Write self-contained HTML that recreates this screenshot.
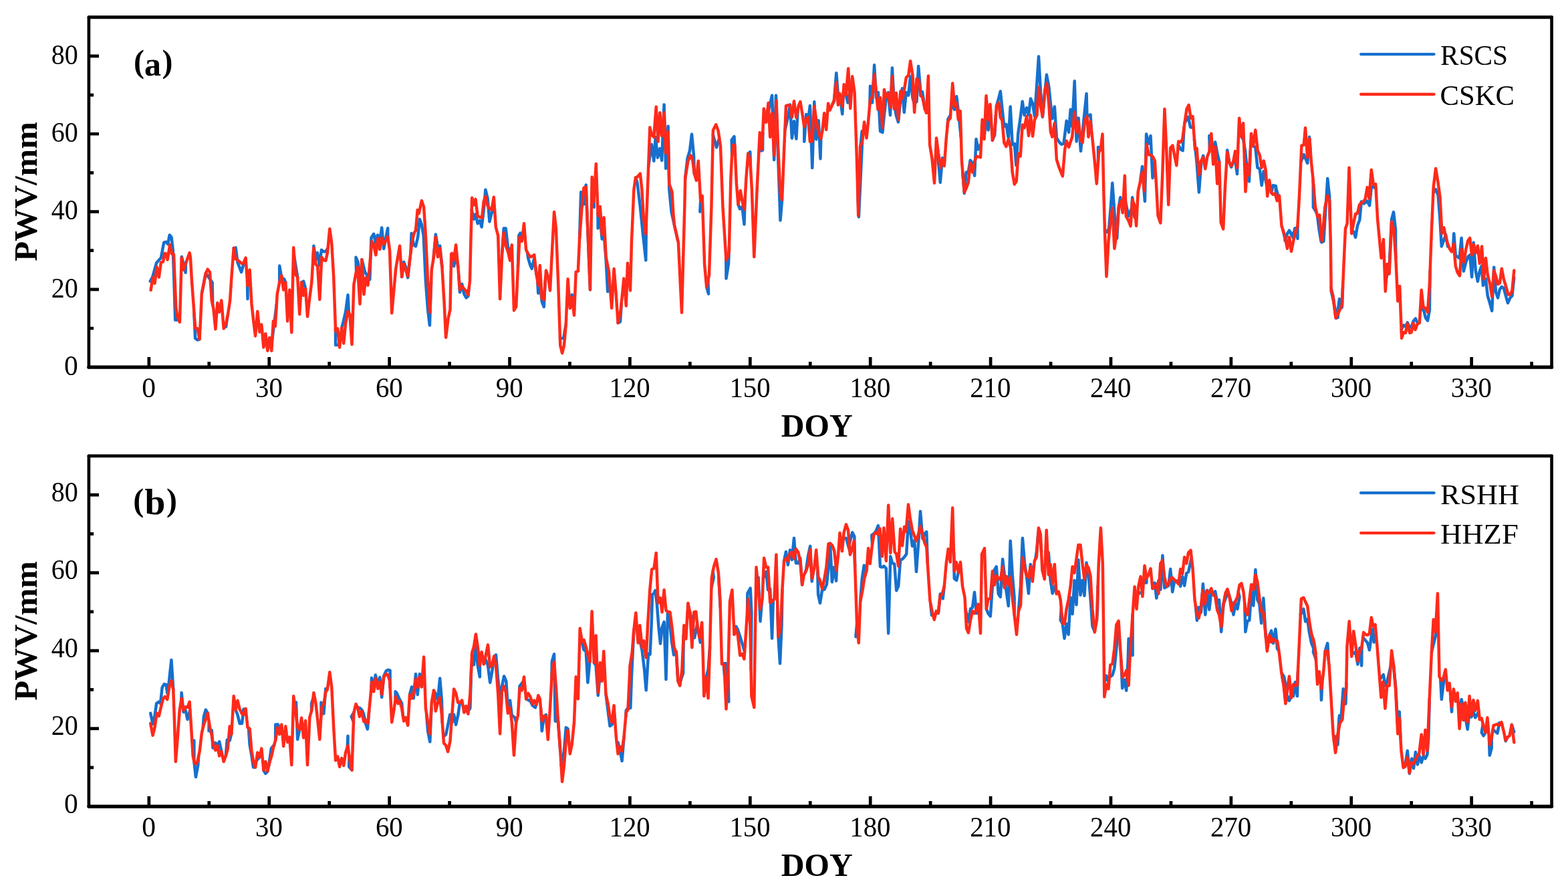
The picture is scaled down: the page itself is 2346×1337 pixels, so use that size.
<!DOCTYPE html>
<html lang="en">
<head>
<meta charset="utf-8">
<title>PWV time series comparison</title>
<style>
html,body{margin:0;padding:0;background:#fff;}
body{width:2346px;height:1337px;overflow:hidden;}
svg{display:block;}
text{font-family:"Liberation Serif",serif;fill:#000;}
</style>
</head>
<body>
<svg width="2346" height="1337" viewBox="0 0 2346 1337">
<rect width="2346" height="1337" fill="#fff"/>
<g class="panel">
<path d="M224.7,420.6 L228.1,414.6 L234.1,393.3 L238.4,388.2 L240.9,385.6 L245.2,362.6 L248.6,361.8 L251.2,365.2 L253.7,351.5 L256.6,354.9 L258.8,374.6 L260.5,422.3 L262.2,478.6 L267.5,478.6 M271.6,385.6 L271.9,383.9 L277.6,407.8 L277.9,394.0 M290.4,468.1 L292.1,505.9 L295.5,508.4 L298.6,507.2 M302.6,435.5 L307.8,408.7 L310.8,412.9 L317.6,422.3 L318.3,456.6 M337.8,484.3 L338.1,488.8 L340.3,473.4 M349.7,371.1 L352.6,370.3 L355.5,392.5 L361.1,407.0 L365.7,390.4 M370.0,420.4 L370.5,447.0 L370.5,427.4 M407.3,507.5 L413.9,454.9 M418.1,423.0 L418.2,397.6 L421.3,415.5 L425.1,417.2 L427.3,422.3 M440.1,383.2 L445.2,414.6 M451.1,422.3 L454.1,420.6 L457.1,431.7 M468.4,388.3 L469.4,367.7 L472.3,388.2 L474.9,378.0 L477.9,396.7 L481.0,373.7 L484.4,376.3 L487.3,376.3 L490.5,371.2 M502.0,490.4 L502.1,516.1 L507.7,515.8 M511.2,490.5 L513.7,481.1 L517.1,466.6 L520.5,441.1 L521.9,467.7 M533.1,406.3 L532.5,384.8 L535.5,391.6 L539.9,422.4 M541.4,388.2 L546.1,407.0 L553.3,418.0 L555.5,355.8 L559.2,349.8 L562.3,364.3 L564.9,351.5 L568.3,360.9 L571.2,340.5 L574.2,372.0 L580.2,341.3 L580.3,354.3 M601.1,414.1 L604.1,391.7 L607.0,399.2 L610.2,415.2 L613.4,386.4 M614.5,378.0 L615.6,349.1 L618.8,366.2 L622.0,368.3 L625.2,354.4 L627.9,327.8 L630.9,336.3 L633.7,352.3 L636.9,420.5 L640.1,463.1 L642.9,486.6 L645.1,420.5 M648.6,386.4 L651.8,350.6 L655.0,369.4 L658.2,367.6 L661.4,399.2 M675.2,380.0 L676.3,388.5 L679.1,398.1 L682.1,377.9 L685.3,399.2 M686.3,411.9 L688.0,437.1 L691.2,424.8 L694.4,439.7 L697.6,445.4 L700.4,442.9 L701.6,431.0 M705.6,313.9 L708.9,327.8 L711.5,320.3 L714.7,334.2 L717.9,329.9 L720.6,339.5 L723.8,313.9 L726.4,283.7 L729.6,296.9 L732.4,331.4 L735.6,318.2 L740.0,313.9 M751.3,377.9 L753.7,341.6 L756.7,341.6 L759.9,369.4 L764.4,378.0 M775.0,399.2 L776.3,352.3 L778.4,348.5 L781.2,356.6 M788.9,377.0 L790.3,386.4 L793.5,397.1 L795.7,401.8 L799.3,386.4 L802.5,409.9 M804.2,420.2 L805.3,438.6 L807.8,420.5 L810.8,451.4 L813.8,458.9 L815.8,420.5 M837.9,505.9 L843.2,505.8 L846.8,484.4 M851.7,446.2 L855.8,440.8 L859.3,463.1 M867.1,356.7 L869.2,287.3 L873.5,305.4 L876.7,276.6 L879.9,356.6 L883.0,433.3 M871.2,303.7 L876.8,276.6 L877.5,300.5 M888.3,300.4 L888.8,309.9 L888.5,300.4 M894.5,317.5 L894.7,341.4 L897.8,326.1 L900.7,357.6 L903.8,351.6 L906.7,389.2 L909.2,436.1 L912.0,419.8 M924.6,482.9 L928.0,481.2 L929.8,453.8 M951.0,265.6 L953.5,273.2 L957.8,309.0 L962.1,351.6 L966.3,389.2 L966.9,334.5 M970.1,249.3 L974.9,216.1 L978.3,240.8 L980.8,205.0 L983.9,235.7 L987.3,222.1 L990.2,240.0 L993.6,156.4 L996.2,251.9 L999.6,188.8 L1001.3,283.4 L1004.7,317.6 L1014.0,359.0 M1025.2,266.4 L1028.6,236.6 L1032.0,225.5 L1035.0,200.8 L1038.0,232.3 L1038.9,260.1 M1048.2,300.3 L1047.3,316.7 L1048.3,300.2 M1057.2,429.4 L1060.1,439.5 L1059.3,419.2 M1066.8,201.6 L1072.0,220.4 L1076.2,206.5 M1086.3,385.6 L1086.5,416.4 L1090.0,394.3 L1091.0,368.7 M1095.1,232.4 L1094.7,209.3 L1098.5,204.2 L1100.0,232.3 M1104.4,305.6 L1107.0,312.4 L1110.4,309.0 L1113.5,335.5 L1114.5,300.4 M1119.3,229.7 L1122.3,227.2 L1122.9,249.5 M1136.0,215.2 L1138.5,225.5 L1141.1,224.6 L1141.3,198.2 M1150.1,164.2 L1155.1,142.8 L1158.2,239.1 L1161.0,142.8 L1164.1,232.3 L1167.5,329.5 L1170.1,298.8 M1174.4,194.7 L1179.5,172.6 L1182.0,156.4 L1184.9,206.7 L1188.0,181.2 L1191.4,207.6 L1193.7,163.9 M1203.3,189.3 L1203.3,211.8 L1206.2,170.9 L1209.0,181.2 L1211.9,158.1 L1215.3,251.1 L1218.3,152.2 L1221.2,208.4 L1224.7,180.3 L1227.5,237.4 L1228.3,206.3 M1245.7,155.5 L1247.9,151.8 L1251.3,109.2 L1253.9,141.6 L1257.3,148.4 L1260.3,170.6 L1261.9,138.1 M1265.8,141.6 L1268.4,153.6 L1271.1,138.2 M1287.0,223.4 L1289.7,196.2 L1290.7,206.3 M1290.0,213.2 L1284.9,324.4 L1283.4,291.7 M1301.4,155.5 L1302.0,128.8 L1305.0,153.6 L1308.1,97.3 L1311.0,146.7 L1313.9,138.2 L1317.0,196.2 L1320.4,197.9 L1322.9,172.3 L1325.8,146.7 L1328.9,138.2 L1332.0,172.3 L1334.9,101.5 L1337.8,155.2 L1340.8,172.3 L1343.9,182.5 L1347.3,150.1 L1349.9,132.2 L1352.8,168.0 L1355.8,138.2 L1359.2,142.5 L1362.1,114.3 L1365.5,146.7 L1368.1,155.2 L1371.5,151.8 L1374.1,99.0 L1377.5,138.2 L1380.0,137.3 L1384.0,163.6 M1400.2,223.4 L1403.9,240.5 L1406.8,272.9 L1409.9,236.2 L1413.3,240.5 M1417.5,189.5 L1418.4,178.3 L1422.1,172.3 M1423.2,155.1 L1428.1,163.8 L1431.2,144.2 L1433.8,165.5 L1437.9,206.4 M1440.3,257.5 L1442.8,289.1 L1445.7,257.6 L1448.8,257.6 L1451.7,239.7 L1455.1,243.9 L1458.1,262.7 L1460.5,208.1 L1463.6,223.4 L1467.9,215.0 M1469.1,189.3 L1472.5,206.4 L1475.5,175.7 L1478.6,194.5 L1482.5,172.2 M1484.9,209.8 L1488.3,201.3 L1489.9,172.2 M1490.9,158.7 L1494.3,146.7 L1496.8,136.5 L1499.4,162.1 L1502.3,189.3 L1505.4,185.9 L1508.8,206.4 L1511.7,159.5 L1514.7,216.6 L1517.8,214.9 L1520.4,247.3 L1523.3,199.6 L1526.7,175.7 L1529.7,151.8 L1532.6,172.3 L1536.0,161.2 L1539.0,172.3 L1542.0,147.6 L1545.1,155.2 L1548.0,174.0 L1550.5,138.2 L1554.0,84.5 L1557.0,138.2 L1559.9,174.9 L1563.3,138.2 L1565.9,111.8 L1569.3,129.7 L1571.9,155.2 L1574.4,177.4 L1577.8,159.5 L1580.9,206.4 L1584.7,212.4 L1588.1,215.8 L1591.5,214.9 L1595.7,180.8 L1599.1,197.9 L1601.7,163.8 L1604.2,189.3 L1607.7,121.2 L1610.6,211.5 L1613.6,176.6 L1617.0,226.0 L1620.5,189.3 L1625.6,139.9 L1626.4,174.0 M1626.4,174.2 L1631.6,171.5 L1632.6,191.3 M1643.0,242.4 L1643.0,220.1 L1645.4,225.2 M1653.0,344.6 L1656.7,347.2 L1659.2,341.2 L1661.8,310.5 L1664.3,273.8 L1666.9,310.5 L1669.5,353.1 L1671.2,356.5 L1673.7,310.5 M1673.7,310.5 L1676.3,295.2 L1677.5,303.9 M1684.1,302.1 L1688.5,323.3 L1693.4,310.7 M1693.4,310.6 L1694.2,295.2 L1697.6,325.0 L1697.8,310.6 M1706.1,271.3 L1709.0,249.1 L1712.9,301.1 L1715.1,200.5 L1718.0,215.0 L1721.5,203.1 L1724.5,266.2 L1727.9,242.2 M1762.8,216.7 L1766.6,223.6 L1769.7,225.2 L1771.5,191.0 M1772.4,183.9 L1777.7,174.9 L1781.1,190.3 L1785.7,191.0 M1786.9,208.3 L1790.5,242.3 L1793.9,287.5 L1797.3,242.3 L1800.2,232.9 L1803.8,249.2 M1809.8,222.2 L1809.3,203.1 L1813.7,221.8 M1813.9,225.3 L1818.1,212.5 L1821.2,228.7 L1824.3,242.3 M1835.3,242.4 L1836.2,224.4 L1839.1,242.3 L1842.2,250.0 L1845.1,242.3 L1848.5,242.3 L1851.0,260.2 L1852.1,225.2 M1857.0,203.9 L1860.1,208.2 L1863.0,225.2 L1866.4,259.4 L1868.9,271.3 L1870.8,225.2 M1874.9,218.4 L1878.3,220.1 L1881.4,250.8 L1884.8,252.5 L1887.7,277.2 L1890.8,255.9 L1895.1,276.3 M1902.2,288.3 L1904.7,277.2 L1909.0,278.1 L1908.7,292.4 M1922.2,352.4 L1922.6,359.9 L1926.0,349.7 L1929.0,344.6 L1932.0,350.6 L1935.4,356.5 L1937.1,342.1 L1941.4,356.5 L1940.7,340.2 M1946.3,242.2 L1950.8,231.2 L1953.3,237.2 L1956.2,244.0 L1959.0,204.8 L1960.6,225.3 M1965.2,276.1 L1965.3,310.5 L1970.0,318.7 M1971.2,324.1 L1973.8,344.6 L1976.7,361.6 L1979.8,360.8 L1980.2,336.0 M1985.9,294.1 L1986.2,267.0 L1986.9,294.3 M1991.6,429.9 L1995.1,446.9 L1998.5,474.2 L2001.6,475.0 L2004.0,446.9 L2007.9,458.8 L2009.0,429.8 M1900.8,279.6 L1905.2,277.8 L1908.5,278.8 L1912.9,295.4 M1919.3,343.3 L1923.1,358.9 L1926.0,349.2 L1928.9,345.3 L1932.4,349.2 L1935.1,351.1 L1937.6,341.4 L1941.5,356.9 L1941.4,338.6 M1964.7,269.2 L1964.9,310.3 L1969.0,313.9 M1974.7,327.6 L1974.6,347.2 L1977.5,362.4 L1980.4,360.8 L1982.4,327.8 L1986.3,267.5 L1989.2,294.7 L1989.9,327.8 M1991.7,434.9 L1996.0,454.2 L1999.9,475.6 L2001.8,463.9 L2003.8,448.4 L2007.7,460.0 L2008.4,444.4 M2022.2,347.2 L2025.2,346.3 L2028.1,355.0 L2031.0,337.5 L2034.3,328.8 L2036.8,301.5 L2040.7,304.4 L2045.6,300.6 L2049.1,307.4 L2051.8,279.2 L2058.5,280.9 M2074.3,415.2 L2078.6,399.7 L2082.1,327.8 L2085.0,317.1 L2088.0,343.3 L2088.3,386.2 M2096.6,493.1 L2100.0,486.3 L2102.9,488.2 L2105.8,482.4 L2108.8,489.2 L2111.7,489.2 L2114.6,480.4 L2117.9,476.5 L2120.4,482.4 L2123.6,482.7 M2125.0,463.8 L2129.6,462.0 L2133.1,475.6 L2136.0,479.5 L2138.9,463.9 L2139.6,405.5 M2144.4,288.9 L2148.1,283.1 L2151.6,291.8 L2154.5,327.8 L2156.8,368.6 L2160.3,358.9 L2163.2,351.1 L2166.1,368.6 L2167.1,367.4 M2174.2,367.2 L2175.3,349.2 L2177.8,382.2 L2180.7,384.2 L2183.6,386.1 L2186.6,356.0 L2189.8,405.6 L2193.3,391.9 L2196.3,384.2 L2199.2,381.3 L2202.1,414.3 L2204.6,362.8 L2207.9,405.6 L2210.9,420.7 L2213.8,405.6 L2216.7,397.8 L2219.0,427.0 L2222.9,417.2 L2225.8,442.5 L2229.3,454.2 L2232.2,464.9 L2235.2,399.7 L2238.1,436.7 L2241.0,445.4 L2243.9,432.8 L2246.8,428.9 L2249.8,430.9 L2252.7,441.5 L2256.0,453.2 L2259.5,445.4 L2262.4,442.5 L2265.3,415.3" fill="none" stroke="#1670cd" stroke-width="4.5" stroke-linejoin="round" stroke-linecap="round"/>
<path d="M225.6,433.9 L228.6,415.5 L231.5,423.7 L234.6,399.3 L237.8,414.6 L240.9,392.5 L244.0,391.6 L246.4,378.8 L248.6,379.7 L250.6,388.5 L254.2,366.0 L257.1,379.7 L260.0,380.5 L261.7,422.3 L263.4,461.5 L265.6,474.3 L268.9,481.6 L270.2,439.4 L271.6,385.6 L274.5,403.6 L277.6,395.0 L283.6,378.0 L284.9,384.8 L287.0,420.6 L292.1,490.5 L295.5,491.4 L298.6,507.2 L300.3,473.4 L301.8,439.4 L304.9,424.0 L307.8,408.7 L310.8,402.7 L313.9,407.0 L316.8,449.6 L319.4,461.5 L322.4,492.2 L325.3,453.0 L328.2,466.6 L331.3,449.2 L334.7,491.4 L338.1,483.7 L340.7,471.8 L344.1,449.6 L346.6,412.1 L349.7,371.1 L352.6,387.4 L355.5,389.1 L358.6,391.6 L362.0,394.2 L364.5,393.3 L367.6,385.6 L370.5,427.4 L373.6,403.6 L376.5,454.7 L379.5,482.0 L382.1,502.4 L385.3,465.8 L388.4,496.5 L391.3,485.4 L394.4,519.5 L397.3,499.0 L400.3,524.6 L403.2,505.0 L406.3,524.6 L408.9,480.3 L411.8,487.9 L414.8,439.4 L418.2,422.3 L421.3,412.1 L424.2,433.4 L427.3,422.3 L430.2,480.3 L433.2,433.4 L436.3,497.3 L439.2,370.3 L442.1,410.4 L445.2,414.6 L448.2,470.0 L451.1,422.3 L454.1,441.9 L457.1,431.7 L460.0,473.4 L463.4,444.5 L466.3,422.3 L469.4,371.1 L472.3,395.0 L475.2,398.4 L478.3,447.9 L481.3,384.8 L484.4,389.1 L487.3,389.9 L489.9,378.0 L493.3,342.2 L496.3,364.3 L499.2,413.8 L502.1,494.8 L505.2,491.4 L508.1,519.5 L511.2,490.5 L514.2,513.5 L517.1,483.7 L520.5,465.8 L523.4,470.0 L526.5,515.2 L529.4,425.7 L532.5,408.7 L535.0,399.3 L538.5,454.7 L541.4,388.2 L544.4,440.2 L547.3,415.5 L550.4,426.6 L553.3,395.0 L556.4,360.9 L559.2,366.0 L562.3,381.4 L565.4,356.7 L568.3,372.9 L571.2,355.8 L574.2,365.2 L580.2,354.1 L583.1,374.6 L586.2,468.3 L592.2,401.8 L598.1,367.7 L601.1,414.1 L604.1,394.9 L607.0,403.4 L610.2,413.0 L613.4,386.4 L616.6,360.8 L619.8,348.0 L622.0,344.8 L624.7,313.9 L626.7,319.3 L627.9,313.9 L630.9,300.1 L634.1,309.7 L636.9,352.3 L640.1,420.5 L643.3,467.0 L645.8,403.4 L648.6,386.4 L651.8,354.4 L655.0,384.3 L658.2,371.5 L661.4,399.2 L664.6,452.5 L667.1,504.7 L670.6,475.9 L673.5,463.1 L675.2,380.0 L676.3,378.9 L679.1,388.5 L682.1,366.2 L685.3,399.2 L688.0,433.3 L691.2,428.0 L694.4,432.2 L697.6,435.4 L700.4,440.8 L703.0,420.5 L704.5,356.6 L706.2,295.8 L708.9,306.5 L711.5,297.9 L714.7,323.5 L717.9,324.6 L721.1,325.7 L723.8,301.1 L726.4,293.7 L729.6,307.5 L732.4,311.8 L735.6,313.9 L738.8,294.8 L741.8,339.5 L745.2,352.3 L748.1,447.1 L751.3,377.9 L753.7,348.0 L756.7,367.2 L759.9,375.8 L763.1,389.6 L765.8,366.2 L769.0,464.2 L772.2,458.9 L775.0,399.2 L777.5,354.4 L780.8,360.8 L784.0,334.2 L787.1,373.6 L790.3,380.0 L793.5,384.3 L796.7,383.2 L799.3,381.1 L802.5,409.9 L805.3,426.9 L807.8,397.1 L810.8,446.1 L813.8,448.2 L817.0,404.5 L820.2,414.1 L823.0,434.4 L825.9,377.9 L829.1,317.1 L831.9,341.6 L835.1,420.5 L838.3,516.4 L841.1,528.1 L844.0,516.4 L846.8,484.4 L849.6,417.3 L852.8,461.0 L855.8,445.0 L859.0,471.6 L861.7,406.6 L864.9,405.6 L867.1,356.6 L870.3,313.9 L873.5,280.9 L876.7,279.8 L879.9,356.6 L883.0,433.3 L885.7,264.7 L888.4,301.4 L891.8,245.1 L894.7,322.7 L897.8,309.0 L900.7,350.8 L903.6,325.2 L906.7,384.9 L910.9,405.4 L915.2,460.8 L918.6,401.9 L921.7,439.5 L924.6,482.9 L928.8,463.3 L933.4,416.4 L936.8,457.4 L939.0,393.4 L943.0,434.4 L945.0,361.0 L948.4,283.4 L951.0,265.6 L953.5,264.7 L957.8,259.6 L960.4,283.4 L962.9,326.1 L966.3,349.9 L968.9,283.4 L972.3,190.5 L974.9,201.6 L978.3,205.0 L981.7,159.8 L984.6,211.8 L987.3,168.4 L990.2,203.3 L993.6,168.4 L996.2,228.9 L999.6,197.3 L1001.3,274.9 L1005.5,286.9 L1007.2,317.6 L1009.0,337.2 L1014.9,362.7 L1020.0,467.6 L1024.3,309.9 L1025.2,266.4 L1029.4,240.8 L1033.3,232.3 L1036.2,239.1 L1038.8,259.6 L1041.9,269.8 L1044.8,240.8 L1048.2,300.5 L1050.7,292.8 L1054.1,395.1 L1057.2,429.4 L1061.0,411.3 L1064.4,309.9 L1066.9,194.8 L1071.2,186.3 L1074.6,195.6 L1078.0,218.7 L1081.4,309.0 L1086.5,389.2 L1090.8,377.2 L1093.4,266.4 L1095.1,232.3 L1096.8,217.0 L1099.3,217.0 L1101.9,274.9 L1104.4,305.6 L1107.8,285.2 L1110.4,300.5 L1113.8,313.3 L1116.4,266.4 L1119.3,229.7 L1122.3,239.1 L1124.9,283.4 L1128.3,384.1 L1132.6,283.4 L1136.8,198.2 L1140.2,222.9 L1142.8,162.4 L1146.2,182.9 L1149.6,153.9 L1152.2,205.0 L1155.1,170.1 L1158.2,232.3 L1161.6,150.5 L1164.1,220.4 L1167.5,288.6 L1170.1,298.8 L1173.5,215.2 L1176.0,158.1 L1179.5,157.3 L1182.0,158.1 L1184.9,175.2 L1188.0,151.3 L1191.4,176.0 L1194.8,158.1 L1197.4,152.2 L1200.8,172.6 L1203.3,189.7 L1206.2,179.4 L1209.0,175.2 L1211.9,211.8 L1215.3,211.0 L1218.3,159.0 L1221.2,179.4 L1224.7,198.2 L1228.1,207.6 L1230.6,194.8 L1233.2,169.2 L1236.2,193.9 L1239.1,154.7 L1241.7,164.9 L1247.9,150.1 L1251.3,122.9 L1253.9,157.0 L1256.4,139.9 L1260.3,159.5 L1262.7,126.3 L1265.8,141.6 L1269.2,102.4 L1272.3,162.1 L1275.2,114.3 L1278.6,138.2 L1280.3,189.3 L1282.0,240.5 L1284.2,322.5 L1287.1,218.3 L1290.0,213.2 L1293.1,182.5 L1296.5,206.4 L1299.0,182.5 L1302.0,149.3 L1305.0,145.0 L1308.1,110.9 L1311.0,138.2 L1313.5,163.8 L1317.0,145.9 L1320.4,191.1 L1322.9,133.9 L1325.8,145.0 L1328.9,139.9 L1332.3,160.4 L1334.9,114.3 L1337.8,162.9 L1340.8,139.1 L1344.2,179.1 L1347.3,136.5 L1350.2,147.6 L1352.8,134.8 L1355.8,116.0 L1359.2,112.6 L1362.1,91.3 L1365.5,112.6 L1368.1,168.0 L1371.5,117.7 L1374.6,120.3 L1377.5,143.3 L1380.0,145.0 L1383.5,162.1 L1386.0,168.9 L1388.9,113.5 L1391.1,216.6 L1394.5,237.1 L1398.0,273.8 L1401.0,206.4 L1403.9,228.6 L1407.3,250.7 L1409.9,238.8 L1412.8,248.2 L1415.8,206.4 L1418.4,180.8 L1421.8,176.6 L1425.2,124.6 L1428.1,158.7 L1431.2,153.6 L1433.8,179.1 L1436.8,166.3 L1438.9,240.5 L1442.8,287.4 L1445.7,281.4 L1448.8,272.9 L1451.7,243.9 L1455.1,257.6 L1458.5,240.5 L1461.0,233.7 L1467.0,235.4 L1469.6,179.1 L1472.5,208.1 L1475.5,143.3 L1478.6,179.1 L1481.5,156.1 L1484.9,209.8 L1488.3,196.2 L1490.9,158.7 L1494.3,153.6 L1496.8,175.7 L1499.4,180.0 L1502.3,213.2 L1505.4,219.2 L1508.8,208.1 L1512.2,221.8 L1514.7,257.6 L1517.8,275.5 L1520.7,271.2 L1523.6,229.4 L1526.7,233.7 L1529.7,186.8 L1532.6,191.1 L1536.0,174.0 L1539.0,203.0 L1542.0,172.3 L1545.1,203.8 L1548.0,179.1 L1551.4,172.3 L1554.0,130.5 L1557.0,158.7 L1559.9,174.0 L1563.3,134.8 L1566.2,124.6 L1569.3,155.2 L1571.9,197.0 L1574.4,204.7 L1577.8,184.2 L1580.9,238.8 L1584.7,250.7 L1589.8,263.5 L1593.2,223.4 L1595.7,210.7 L1599.1,220.0 L1604.2,204.7 L1607.7,168.0 L1610.6,197.9 L1613.6,182.5 L1617.0,209.8 L1619.6,213.2 L1623.0,180.8 L1626.4,174.0 L1628.5,204.8 L1631.6,181.8 L1634.5,208.2 L1637.9,242.3 L1640.8,274.7 L1643.9,228.7 L1646.9,221.8 L1649.5,200.5 L1651.5,293.4 L1653.2,353.1 L1655.5,413.5 L1658.4,361.6 L1661.8,327.6 L1664.3,311.4 L1667.4,371.7 L1671.2,344.6 L1673.7,310.5 L1677.1,301.1 L1679.7,318.2 L1682.8,262.8 L1684.8,323.3 L1688.2,329.3 L1691.6,338.1 L1694.2,298.6 L1697.6,307.9 L1700.1,337.8 L1702.7,286.6 L1706.1,271.3 L1709.0,257.6 L1712.1,285.8 L1715.5,215.9 L1718.5,231.2 L1722.3,232.1 L1724.9,234.6 L1727.8,240.6 L1730.0,276.4 L1732.5,322.4 L1736.3,333.5 L1739.3,259.4 L1742.4,163.0 L1745.3,225.2 L1748.2,306.2 L1751.3,221.0 L1754.4,217.6 L1757.2,232.1 L1760.3,247.4 L1763.2,211.6 L1766.6,212.5 L1769.2,208.2 L1772.6,182.6 L1775.5,163.0 L1778.6,157.1 L1781.6,176.7 L1784.5,174.1 L1788.0,223.6 L1790.5,221.8 L1793.9,261.9 L1797.0,240.6 L1800.2,235.5 L1803.3,252.5 L1806.4,233.8 L1809.3,227.0 L1812.3,199.7 L1815.2,245.7 L1818.1,219.3 L1821.2,274.7 L1824.3,242.3 L1826.7,332.7 L1830.2,342.4 L1833.1,276.4 L1836.2,227.8 L1839.1,242.3 L1842.2,248.3 L1845.1,242.3 L1848.1,226.1 L1851.0,250.8 L1854.1,176.7 L1857.0,203.9 L1860.1,184.3 L1863.5,286.6 L1866.4,245.7 L1868.9,261.9 L1872.0,199.7 L1874.9,218.4 L1878.3,194.6 L1881.7,225.2 L1884.8,232.1 L1887.7,250.8 L1890.8,240.6 L1893.7,254.2 L1896.2,293.4 L1899.1,269.6 L1902.2,288.3 L1904.7,290.9 L1907.8,289.2 L1910.7,300.3 L1914.1,292.6 L1917.5,337.8 L1922.6,353.8 L1926.0,371.7 L1929.0,354.7 L1932.0,376.0 L1935.4,358.9 L1938.8,344.6 L1941.4,338.6 L1944.0,293.4 L1947.4,217.6 L1950.8,216.7 L1953.0,191.2 L1956.2,235.5 L1959.3,207.3 L1961.9,242.3 L1964.4,266.2 L1967.8,308.8 L1971.2,324.1 L1974.3,321.6 L1976.3,353.1 L1978.1,360.6 L1982.3,310.5 L1986.2,292.6 L1989.1,300.3 L1990.8,361.6 L1991.7,434.8 L1994.2,441.6 L1998.5,475.7 L2002.8,467.4 L2007.9,456.1 L2010.5,395.8 L2013.0,341.9 L2015.6,334.4 L2018.5,250.8 L2020.3,298.6 L2022.2,349.2 L2025.2,333.6 L2028.1,320.0 L2031.0,319.0 L2033.9,306.4 L2036.8,303.5 L2039.7,301.5 L2042.7,297.6 L2045.6,280.1 L2048.5,296.7 L2051.8,253.9 L2054.9,276.2 L2058.2,275.3 L2061.1,327.8 L2064.0,358.9 L2066.6,386.1 L2069.9,357.9 L2072.8,435.7 L2075.7,394.9 L2078.6,409.5 L2082.1,331.7 L2085.4,343.3 L2088.3,386.1 L2091.3,450.3 L2094.2,427.9 L2097.1,505.7 L2100.0,497.0 L2102.9,497.9 L2105.8,484.3 L2109.3,497.9 L2111.7,497.0 L2114.6,483.4 L2117.5,493.1 L2120.4,485.3 L2123.9,482.4 L2126.7,433.8 L2129.6,460.0 L2133.1,461.0 L2136.0,466.8 L2138.9,425.0 L2141.8,347.2 L2144.7,280.1 L2148.1,251.9 L2151.6,273.3 L2154.5,294.7 L2157.4,349.2 L2160.3,340.4 L2163.2,355.0 L2166.1,364.7 L2169.1,372.5 L2172.0,376.4 L2174.9,364.7 L2177.8,397.8 L2180.7,407.5 L2184.0,412.4 L2186.9,372.5 L2190.4,391.9 L2193.3,372.5 L2196.3,359.9 L2199.2,356.0 L2202.1,381.3 L2205.0,365.7 L2207.9,378.3 L2210.9,367.6 L2213.8,393.9 L2217.1,368.6 L2220.0,417.2 L2222.9,386.1 L2225.8,411.4 L2229.3,425.0 L2232.2,443.5 L2235.2,404.6 L2238.1,413.3 L2241.0,425.0 L2243.9,423.1 L2246.8,401.7 L2249.8,417.2 L2252.7,427.0 L2256.6,440.6 L2259.5,440.6 L2262.4,434.7 L2265.3,404.6" fill="none" stroke="#ff2a1a" stroke-width="4.5" stroke-linejoin="round" stroke-linecap="round"/>
<path d="M222.85,549.15v-15.20 M312.79,549.15v-8.10 M402.74,549.15v-15.20 M492.69,549.15v-8.10 M582.63,549.15v-15.20 M672.58,549.15v-8.10 M762.53,549.15v-15.20 M852.47,549.15v-8.10 M942.42,549.15v-15.20 M1032.37,549.15v-8.10 M1122.31,549.15v-15.20 M1212.26,549.15v-8.10 M1302.21,549.15v-15.20 M1392.15,549.15v-8.10 M1482.10,549.15v-15.20 M1572.05,549.15v-8.10 M1661.99,549.15v-15.20 M1751.94,549.15v-8.10 M1841.88,549.15v-15.20 M1931.83,549.15v-8.10 M2021.78,549.15v-15.20 M2111.72,549.15v-8.10 M2201.67,549.15v-15.20 M2291.62,549.15v-8.10 M132.90,491.00h7.20 M132.90,432.85h15.10 M132.90,374.70h7.20 M132.90,316.55h15.10 M132.90,258.40h7.20 M132.90,200.25h15.10 M132.90,142.10h7.20 M132.90,83.95h15.10" fill="none" stroke="#000" stroke-width="4.7"/>
<path d="M132.9,25.8V549.15M2321.6,25.8V549.15" fill="none" stroke="#000" stroke-width="4.65" stroke-linecap="round"/>
<path d="M132.9,25.8H2321.6" fill="none" stroke="#000" stroke-width="4.9" stroke-linecap="round"/>
<path d="M132.9,549.15H2321.6" fill="none" stroke="#000" stroke-width="5.3" stroke-linecap="round"/>
<text x="222.5" y="594.1" text-anchor="middle" font-size="41.5">0</text>
<text x="402.4" y="594.1" text-anchor="middle" font-size="41.5" textLength="40.8" lengthAdjust="spacingAndGlyphs">30</text>
<text x="582.3" y="594.1" text-anchor="middle" font-size="41.5" textLength="40.8" lengthAdjust="spacingAndGlyphs">60</text>
<text x="762.2" y="594.1" text-anchor="middle" font-size="41.5" textLength="40.8" lengthAdjust="spacingAndGlyphs">90</text>
<text x="942.1" y="594.1" text-anchor="middle" font-size="41.5" textLength="61.2" lengthAdjust="spacingAndGlyphs">120</text>
<text x="1122.0" y="594.1" text-anchor="middle" font-size="41.5" textLength="61.2" lengthAdjust="spacingAndGlyphs">150</text>
<text x="1301.9" y="594.1" text-anchor="middle" font-size="41.5" textLength="61.2" lengthAdjust="spacingAndGlyphs">180</text>
<text x="1481.8" y="594.1" text-anchor="middle" font-size="41.5" textLength="61.2" lengthAdjust="spacingAndGlyphs">210</text>
<text x="1661.7" y="594.1" text-anchor="middle" font-size="41.5" textLength="61.2" lengthAdjust="spacingAndGlyphs">240</text>
<text x="1841.6" y="594.1" text-anchor="middle" font-size="41.5" textLength="61.2" lengthAdjust="spacingAndGlyphs">270</text>
<text x="2021.5" y="594.1" text-anchor="middle" font-size="41.5" textLength="61.2" lengthAdjust="spacingAndGlyphs">300</text>
<text x="2201.4" y="594.1" text-anchor="middle" font-size="41.5" textLength="61.2" lengthAdjust="spacingAndGlyphs">330</text>
<text x="116.8" y="561.0" text-anchor="end" font-size="41.5">0</text>
<text x="116.8" y="444.7" text-anchor="end" font-size="41.5" textLength="40" lengthAdjust="spacingAndGlyphs">20</text>
<text x="116.8" y="328.4" text-anchor="end" font-size="41.5" textLength="40" lengthAdjust="spacingAndGlyphs">40</text>
<text x="116.8" y="212.2" text-anchor="end" font-size="41.5" textLength="40" lengthAdjust="spacingAndGlyphs">60</text>
<text x="116.8" y="95.8" text-anchor="end" font-size="41.5" textLength="40" lengthAdjust="spacingAndGlyphs">80</text>
<text x="1222.3" y="653.4" text-anchor="middle" font-size="48" font-weight="bold" textLength="107" lengthAdjust="spacingAndGlyphs">DOY</text>
<text transform="translate(55.2,286.5) rotate(-90)" text-anchor="middle" font-size="48" font-weight="bold" textLength="208.5" lengthAdjust="spacingAndGlyphs">PWV/mm</text>
<text font-size="48" font-weight="bold"><tspan x="200.0" y="107.8">(</tspan><tspan x="215.9" y="113.3" font-size="50">a</tspan><tspan x="242.6" y="107.8">)</tspan></text>
<path d="M2036.1,81.1H2145.5" stroke="#1670cd" stroke-width="4.3" stroke-linecap="round"/>
<path d="M2036.1,141.0H2145.5" stroke="#ff2a1a" stroke-width="4.3" stroke-linecap="round"/>
<text x="2155.1" y="97.4" font-size="41.5" textLength="101.0" lengthAdjust="spacingAndGlyphs">RSCS</text>
<text x="2154.6" y="157.3" font-size="41.5" textLength="111.4" lengthAdjust="spacingAndGlyphs">CSKC</text>
</g>
<g class="panel">
<path d="M225.2,1066.6 L228.6,1082.8 L231.5,1070.8 L234.1,1052.1 L237.5,1049.5 L240.1,1052.1 L242.6,1028.2 L245.7,1023.1 L248.6,1023.9 L250.3,1036.7 L252.9,1019.7 L256.4,986.9 L259.3,1031.6 M271.4,1045.7 L271.6,1035.9 L274.5,1064.9 L277.6,1062.3 L280.5,1075.9 L284.4,1062.2 M287.3,1108.3 L290.4,1107.5 L290.4,1139.0 L292.9,1162.0 L296.3,1144.1 L297.2,1130.3 M303.7,1088.3 L304.9,1071.7 L307.8,1061.5 L310.8,1066.6 M312.7,1079.1 L312.5,1093.0 L316.8,1092.1 L318.5,1118.6 L322.4,1110.9 L325.3,1114.3 L328.2,1109.2 L331.3,1123.7 M337.8,1130.5 L339.8,1106.6 L343.7,1107.5 L346.4,1096.4 M352.6,1061.5 L355.5,1069.1 L358.6,1081.9 L362.0,1081.9 L364.5,1060.6 L367.9,1062.3 M371.9,1088.7 L373.6,1113.5 L376.5,1130.5 L379.0,1147.5 L382.1,1147.5 M383.5,1137.9 L388.4,1132.2 M394.4,1151.8 L397.3,1156.9 L400.3,1153.5 M402.1,1145.6 L405.8,1119.4 L410.2,1113.8 M412.1,1107.3 L412.3,1083.6 L416.2,1083.6 L418.6,1096.5 M440.7,1052.0 L443.0,1050.4 L445.2,1105.8 L448.2,1091.3 M466.1,1063.1 L466.0,1052.1 L468.3,1045.2 M480.5,1071.0 L480.5,1050.4 L484.4,1067.4 L487.3,1029.9 L489.5,1031.4 M519.7,1117.7 L520.5,1100.7 L520.5,1115.2 M522.5,1130.2 L522.2,1146.7 L526.5,1151.6 M529.0,1079.5 L525.7,1071.7 L529.4,1065.7 M535.0,1058.0 L538.5,1058.9 L541.9,1062.3 L544.4,1069.1 L547.3,1082.8 L549.9,1090.4 L552.3,1062.3 M555.5,1028.4 L556.0,1013.7 L559.2,1028.2 L561.8,1009.5 L565.4,1024.8 L568.3,1012.9 L571.2,1042.7 L574.2,1011.1 L577.7,1003.5 L580.6,1001.8 L583.6,1002.6 L583.6,1028.3 M591.6,1045.7 L591.6,1034.2 L595.6,1041.8 L598.2,1048.9 M592.2,1041.8 L593.2,1035.8 L598.1,1046.4 L601.1,1051.7 L603.1,1072.1 M613.0,1038.9 L616.0,1027.2 L618.8,1044.3 L622.0,1008.0 L624.7,1038.9 L627.9,1008.0 L630.9,1027.2 M638.1,1067.5 L640.1,1093.3 L643.3,1109.3 L645.4,1059.2 M649.0,1032.5 L651.8,1037.9 L655.0,1046.4 L658.2,1014.4 L661.0,1048.5 L661.8,1080.7 M663.3,1101.9 L667.1,1098.6 L670.1,1084.8 L673.1,1068.8 L676.3,1080.5 L679.1,1068.8 L682.1,1083.7 L685.3,1069.8 L688.0,1050.7 M693.2,1058.8 L694.4,1057.1 L697.2,1063.5 L700.4,1063.5 L703.4,1059.2 L705.3,995.2 M706.0,980.3 L708.9,994.2 L711.9,963.3 L714.7,995.2 L717.9,1012.3 L717.9,994.9 M723.8,993.1 L726.8,986.7 L730.0,995.2 L733.2,1020.8 L736.0,1005.9 L739.2,982.5 L742.0,979.3 L745.2,1016.6 L749.8,1059.3 M749.8,1059.3 L750.9,1027.2 L754.1,1011.2 L757.3,1018.7 L759.9,1059.2 L763.1,1047.5 L765.8,1069.8 L770.1,1073.0 L772.2,1080.5 M777.0,1038.0 L777.5,1026.2 L782.9,1019.0 M787.2,1045.2 L793.5,1048.5 L796.7,1054.9 L801.0,1058.1 L803.6,1048.4 M809.1,1059.1 L810.8,1093.3 L813.8,1072.0 L817.0,1068.8 L817.7,1080.6 M825.3,1016.7 L825.9,988.9 L829.1,978.2 L830.8,1078.4 L835.1,1078.4 L838.3,1123.1 M839.6,1144.5 L844.0,1123.1 L846.8,1088.0 L849.6,1090.1 L850.5,1102.0 M867.2,959.0 L870.9,961.1 L873.5,971.8 L876.7,973.9 L879.4,1020.8 L882.8,984.6 M888.8,991.0 L891.6,995.2 L894.8,1040.0 L898.0,1005.9 L901.8,999.5 M906.5,1037.9 L909.7,1063.5 L912.5,1085.8 L915.5,1083.7 L920.1,1076.1 M922.8,1110.2 L924.6,1110.3 L927.8,1123.1 L930.6,1138.0 L933.6,1101.8 M936.2,1072.2 L936.8,1062.4 L939.5,1059.2 L942.7,1057.1 L942.8,994.9 M939.6,1059.6 L943.3,1058.8 L945.0,1010.2 L948.4,942.1 M955.8,950.4 L960.7,972.7 L964.1,1001.6 L966.7,1032.3 L970.1,977.8 L972.6,978.6 L974.7,933.5 L976.0,889.1 L978.6,887.4 L980.3,883.1 L982.9,902.8 L985.4,936.9 L988.0,962.4 L990.5,938.6 L993.6,930.0 L996.5,1016.1 L999.0,916.4 L1002.5,933.5 L1005.0,959.0 L1008.1,979.5 L1011.8,974.4 L1014.4,1018.7 M1018.2,1018.4 L1022.1,1006.8 L1022.7,950.5 M1028.6,916.4 L1032.3,914.7 L1035.4,930.0 L1039.1,953.9 L1043.2,933.2 M1046.0,950.1 L1047.7,960.7 L1050.8,950.5 M1056.2,1013.6 L1059.6,1001.6 L1062.1,967.6 M1064.4,878.9 L1067.8,863.5 L1066.6,854.5 M1075.4,865.2 L1077.7,907.9 M1084.3,1012.5 L1082.6,992.3 L1086.0,992.3 L1090.3,1049.4 L1089.4,1001.6 M1098.5,948.8 L1101.4,936.9 L1103.9,942.0 L1107.3,952.2 L1114.1,974.6 M1118.0,916.5 L1118.4,887.4 L1122.7,879.7 L1124.4,916.4 L1123.6,1001.7 M1131.2,865.2 L1134.6,863.5 L1137.5,929.2 L1139.9,899.2 M1141.8,865.2 L1146.2,855.0 L1149.1,882.3 L1152.2,880.6 L1155.1,954.8 L1156.8,897.6 M1163.5,916.4 L1164.4,950.5 L1167.0,992.3 L1169.6,933.5 L1170.4,882.2 M1173.0,839.7 L1175.9,825.2 L1178.9,844.8 L1182.0,822.6 L1184.9,837.1 L1188.0,804.7 L1190.9,842.2 L1194.3,842.2 L1197.3,834.6 L1200.2,874.6 M1204.8,856.0 L1206.2,851.6 L1209.1,831.1 L1212.2,816.7 L1214.7,869.5 L1216.7,856.4 M1223.1,848.1 L1224.1,889.1 L1227.0,901.9 L1230.1,882.3 L1233.5,881.5 L1236.9,873.8 L1239.5,848.2 L1242.0,812.4 L1244.9,870.4 L1248.0,848.2 L1251.1,868.7 L1252.0,848.0 M1261.7,805.5 L1265.9,804.7 L1271.4,824.1 M1270.7,814.2 L1275.3,796.2 L1278.3,802.2 L1279.2,848.2 M1282.1,933.3 L1280.4,952.2 L1283.6,950.4 M1287.2,899.4 L1289.8,865.2 L1292.8,845.6 L1297.0,848.2 M1305.1,814.5 L1304.2,800.5 L1308.5,798.0 M1294.5,860.6 L1293.1,845.7 L1296.8,850.9 M1306.0,808.9 L1305.0,799.7 L1307.9,798.0 L1310.8,793.7 L1313.9,786.0 L1316.9,847.4 L1319.8,848.3 L1322.4,846.6 L1325.8,850.0 L1329.2,947.2 L1332.3,832.1 L1335.2,842.3 L1338.2,843.1 L1341.2,883.2 L1344.2,876.4 L1347.1,837.2 L1350.0,836.3 L1353.1,832.9 L1356.2,828.7 L1359.0,780.1 L1361.6,791.1 L1365.0,816.7 L1368.1,808.2 L1371.0,855.1 L1374.4,808.2 L1377.0,764.7 L1380.4,805.6 L1383.4,798.0 L1386.3,795.4 L1387.8,842.4 M1392.1,901.9 L1394.0,919.9 L1396.2,920.8 M1400.0,917.1 L1403.9,917.3 L1406.8,888.3 L1410.7,895.2 L1412.8,876.3 M1427.0,825.2 L1427.8,865.3 L1431.2,867.9 L1435.3,849.4 M1444.4,910.6 L1448.9,930.1 L1452.0,910.5 L1455.0,908.8 L1458.0,885.8 L1461.0,917.3 L1464.4,910.5 M1468.3,873.0 L1468.3,871.2 M1475.8,910.5 L1478.4,917.3 L1481.8,921.6 L1484.9,876.4 L1487.8,852.5 L1490.8,847.4 L1493.8,888.3 L1496.8,892.6 L1500.1,836.3 L1502.8,859.4 L1505.7,884.9 L1508.8,906.2 L1511.7,809.0 L1514.7,859.4 L1517.6,893.5 L1517.7,919.3 M1523.9,913.9 L1527.0,876.4 L1529.9,804.8 L1533.0,842.3 L1535.9,861.1 L1538.9,887.5 L1541.8,844.0 L1545.9,859.4 M1549.2,836.2 L1550.9,825.2 L1553.5,796.2 M1555.6,794.9 L1558.1,825.3 M1564.4,825.2 L1568.8,826.1 L1571.7,867.9 L1574.7,887.5 L1577.8,876.4 L1580.6,886.6 M1587.8,910.1 L1586.7,927.5 L1589.7,932.7 L1592.6,954.8 L1595.7,932.7 L1598.6,948.9 L1601.7,893.5 L1604.6,918.2 L1607.5,867.9 L1610.5,904.5 L1613.4,837.2 L1616.5,890.0 L1619.4,867.9 L1622.5,890.9 L1625.5,841.5 L1628.5,859.4 L1631.5,893.5 L1634.4,936.1 L1637.7,944.5 M1640.9,927.5 L1642.1,910.5 L1642.6,876.4 M1652.0,1021.7 L1655.3,1010.6 L1659.1,1021.7 M1659.8,1013.0 L1664.4,1009.7 L1667.3,999.5 L1670.3,970.5 L1674.0,936.3 M1677.4,987.5 L1679.2,1029.3 L1682.3,1016.5 L1685.2,1032.7 L1687.7,987.5 L1688.6,955.2 L1691.2,956.9 L1694.6,979.9 L1694.6,919.2 M1702.4,888.6 L1708.7,885.0 M1712.1,851.3 L1712.5,871.6 L1715.4,871.6 L1715.4,864.8 M1724.4,880.1 L1727.5,871.6 L1730.4,894.6 L1733.4,868.2 L1736.3,881.8 L1739.4,830.7 L1742.3,879.3 L1745.4,877.6 L1748.3,875.9 L1751.2,851.1 L1754.2,885.2 L1757.3,868.2 L1760.2,869.0 L1763.3,868.2 L1766.2,876.7 L1769.2,862.2 L1772.1,875.9 L1775.2,857.1 L1778.1,855.4 L1782.7,833.9 M1788.8,905.5 L1790.9,927.9 L1793.5,908.3 L1796.9,915.9 L1799.9,873.3 L1803.3,919.4 L1806.2,882.7 L1809.3,911.7 L1812.2,885.2 L1815.3,888.7 L1818.2,884.4 L1821.2,902.3 L1824.1,897.2 L1827.2,944.9 L1830.7,902.4 M1830.5,903.5 L1837.5,885.0 M1838.6,888.9 L1842.6,902.3 L1845.5,919.4 L1848.5,902.3 L1851.4,910.8 L1854.5,892.9 L1852.8,884.6 M1862.2,902.1 L1863.4,944.9 L1866.4,928.7 L1869.3,927.9 L1872.2,885.2 L1875.3,905.7 L1878.4,852.0 L1881.3,897.2 L1884.2,902.3 L1887.2,932.1 L1890.3,894.6 L1893.9,953.4 M1894.0,953.6 L1899.2,953.5 L1902.1,943.2 L1905.1,962.0 L1908.5,940.7 L1911.1,970.5 L1912.9,970.6 M1918.3,1011.7 L1920.2,1021.9 M1925.1,1038.6 L1929.0,1047.2 L1931.9,1038.7 L1935.0,1030.2 L1938.0,1020.0 L1940.9,1040.4 L1941.9,1004.6 M1945.8,919.3 L1950.3,910.8 L1953.4,929.6 L1956.3,926.2 L1958.8,944.9 L1962.2,962.0 L1968.4,977.1 M1976.0,1021.4 L1977.1,1046.4 L1978.1,1021.4 M1982.7,973.9 L1986.1,962.0 L1986.8,979.2 M1995.8,1107.2 L2001.5,1113.7 L2004.0,1070.2 L2006.6,1072.8 L2009.7,1030.2 L2013.4,1052.3 L2014.4,1021.6 M1899.2,950.0 L1902.1,943.9 L1905.2,961.4 L1908.5,941.0 L1911.4,971.1 L1913.0,971.3 M1917.3,1006.1 L1921.1,1012.0 L1925.5,1035.5 M1924.3,1044.8 L1928.9,1047.9 L1932.2,1041.1 L1935.1,1041.1 L1938.0,1021.7 L1941.0,1041.1 L1940.9,1025.1 M1945.9,918.5 L1950.3,910.8 L1953.2,929.3 L1956.1,928.3 L1962.1,947.3 M1966.3,962.6 L1964.9,975.0 L1969.0,986.6 M1976.5,1025.2 L1976.9,1047.0 L1977.7,1025.3 M1982.3,978.9 L1986.3,962.4 L1987.7,986.8 M1995.3,1103.3 L1997.5,1101.4 L2000.8,1113.1 L2003.8,1071.3 L2008.5,1074.3 M2011.1,1045.9 L2010.0,1031.4 L2012.9,1052.8 L2014.3,1025.6 M2022.5,978.7 L2028.1,975.0 L2031.4,993.5 L2034.3,969.2 L2037.2,995.4 L2037.5,966.9 M2039.2,953.1 L2046.0,961.4 L2048.9,972.1 L2051.8,951.7 L2053.7,941.0 L2055.7,960.4 L2058.8,947.7 M2064.2,1016.0 L2069.9,1009.0 L2072.4,1025.6 L2075.3,1019.7 L2080.6,996.5 M2085.0,994.5 L2088.0,1025.6 L2091.3,1083.9 L2093.8,1064.5 L2095.4,1103.4 M2102.1,1146.4 L2105.8,1122.8 L2108.8,1156.8 L2112.1,1134.5 L2115.0,1149.0 L2117.9,1124.7 L2120.8,1143.2 L2123.7,1130.6 L2126.7,1140.3 L2129.6,1130.6 L2132.5,1134.5 L2135.4,1128.6 L2137.3,1103.3 L2138.8,1045.0 M2141.9,974.9 L2148.6,947.8 L2151.8,928.3 M2155.2,1014.9 L2156.8,1046.0 L2159.7,1021.7 L2161.7,1006.0 M2170.6,1044.8 L2172.0,1064.5 L2173.1,1044.9 M2182.3,1064.5 L2186.6,1046.0 L2190.8,1064.6 M2190.9,1064.3 L2195.7,1090.7 L2198.6,1064.5 L2201.5,1072.2 L2204.4,1064.5 L2207.4,1073.2 L2212.5,1064.2 M2218.8,1082.7 L2216.7,1095.6 L2219.6,1100.4 L2222.5,1095.6 M2227.9,1103.2 L2228.8,1129.6 L2231.7,1118.9 L2231.7,1102.9 M2233.6,1091.1 L2240.4,1096.5 L2243.3,1081.0 L2247.3,1083.5 M2251.7,1102.9 L2252.7,1108.2 L2255.2,1103.1 M2261.8,1083.9 L2265.3,1094.6" fill="none" stroke="#1670cd" stroke-width="4.5" stroke-linejoin="round" stroke-linecap="round"/>
<path d="M225.2,1081.9 L228.6,1099.8 L231.5,1087.9 L234.6,1066.6 L237.8,1070.8 L240.9,1057.2 L244.0,1045.2 L246.9,1041.8 L250.3,1046.1 L253.2,1028.2 L256.3,1018.0 L259.3,1031.6 L261.0,1079.3 L262.8,1139.0 L265.6,1104.9 L268.7,1062.3 L271.6,1044.4 L274.5,1062.3 L277.6,1057.2 L280.5,1058.0 L283.6,1049.5 L286.1,1087.9 L288.7,1130.5 L290.4,1139.0 L292.9,1142.4 L295.5,1139.0 L298.9,1122.0 L301.8,1096.4 L304.9,1083.6 L307.8,1075.9 L310.8,1066.6 L313.9,1087.0 L316.8,1099.8 L319.4,1115.2 L322.4,1122.0 L325.3,1115.2 L328.2,1130.5 L331.3,1123.7 L334.7,1139.0 L337.8,1130.5 L340.7,1120.3 L343.7,1086.2 L346.3,1098.1 L349.7,1041.0 L352.6,1061.5 L355.5,1047.8 L358.6,1060.6 L362.0,1067.4 L364.5,1069.1 L367.6,1059.7 L370.5,1087.9 L373.6,1089.6 L376.5,1123.7 L379.5,1140.7 L382.1,1147.5 L385.3,1125.4 L388.4,1132.2 L391.3,1119.4 L394.4,1151.8 L397.3,1139.0 L400.3,1153.5 L403.2,1140.7 L406.3,1130.5 L408.9,1118.6 L412.3,1106.6 L415.2,1087.9 L418.2,1098.1 L421.3,1083.6 L424.2,1116.0 L427.3,1086.2 L430.2,1110.0 L433.2,1102.4 L436.3,1144.1 L439.2,1041.0 L442.1,1062.3 L445.2,1087.9 L448.2,1091.3 L451.1,1073.4 L454.1,1103.2 L457.1,1077.7 L460.0,1144.1 L463.4,1072.5 L466.3,1062.3 L469.4,1035.9 L472.3,1050.4 L475.2,1075.9 L478.3,1105.8 L481.3,1058.0 L484.4,1052.9 L487.3,1035.0 L489.9,1030.8 L493.3,1005.2 L496.3,1028.2 L499.2,1087.9 L502.1,1137.3 L505.2,1131.4 L508.1,1146.7 L511.2,1133.9 L514.2,1145.0 L517.1,1125.4 L520.5,1115.2 L523.4,1137.3 L526.5,1151.8 L529.4,1065.7 L532.5,1052.9 L535.0,1058.0 L537.9,1071.7 L541.0,1063.2 L544.4,1079.3 L547.3,1076.8 L550.4,1081.9 L553.3,1052.1 L556.4,1019.7 L559.2,1034.2 L562.3,1014.6 L565.4,1029.9 L568.3,1019.7 L571.2,1038.4 L574.2,1012.9 L577.7,1007.7 L580.2,1009.5 L583.1,1018.0 L586.2,1080.2 L589.6,1060.6 L592.2,1041.8 L595.6,1052.1 L598.1,1048.7 L601.1,1059.2 L604.1,1078.4 L607.0,1073.0 L610.2,1084.8 L613.0,1038.9 L616.0,1044.3 L618.8,1037.9 L622.0,1015.5 L624.7,1028.3 L627.9,1012.3 L630.9,1027.2 L634.1,982.5 L636.9,1059.2 L640.1,1080.5 L643.3,1097.5 L645.8,1050.7 L649.0,1032.5 L651.8,1063.5 L655.0,1050.7 L658.2,1043.2 L661.0,1069.8 L664.0,1111.4 L667.1,1114.6 L670.1,1124.2 L673.5,1108.2 L676.3,1069.8 L679.1,1030.4 L682.1,1036.8 L685.3,1050.7 L688.0,1050.7 L691.2,1047.5 L694.4,1065.6 L697.2,1056.0 L700.4,1067.7 L703.4,1037.9 L706.2,976.1 L708.9,967.5 L711.9,948.4 L714.7,966.5 L717.9,995.2 L720.6,975.0 L723.8,993.1 L726.8,980.3 L730.0,964.4 L733.2,997.4 L736.0,995.2 L739.2,981.4 L742.0,995.2 L745.2,1037.9 L748.1,1097.5 L750.9,1033.6 L754.1,1026.2 L756.9,1035.8 L759.9,1066.7 L763.1,1059.2 L765.8,1080.5 L769.0,1129.5 L772.2,1080.5 L775.0,1069.8 L777.5,1029.3 L780.8,1032.5 L784.0,1012.3 L787.1,1045.3 L790.3,1036.8 L793.5,1042.1 L796.7,1052.8 L799.3,1047.5 L802.5,1053.9 L805.3,1040.0 L807.8,1045.3 L810.8,1078.4 L813.8,1070.9 L817.0,1072.0 L819.8,1106.1 L823.0,1059.2 L825.9,1005.9 L829.1,989.9 L831.9,1027.2 L835.1,1080.5 L838.3,1123.1 L841.1,1169.0 L844.0,1144.4 L846.8,1108.2 L849.6,1092.2 L852.8,1127.4 L855.8,1112.5 L859.0,1080.5 L861.7,1012.3 L864.9,1045.3 L867.7,939.8 L870.9,960.1 L873.5,956.9 L876.7,967.5 L879.9,980.3 L882.6,989.9 L885.6,914.3 L888.8,991.0 L891.6,950.5 L894.8,1035.8 L898.0,991.0 L900.7,1018.7 L903.3,973.9 L906.5,1037.9 L909.7,1052.8 L912.5,1072.0 L915.5,1080.5 L918.6,1054.9 L921.8,1101.8 L924.6,1127.4 L927.8,1116.7 L930.6,1123.1 L933.6,1101.8 L936.8,1065.6 L939.5,1061.3 L942.7,995.2 L945.7,976.1 L948.4,942.0 L951.3,916.4 L954.7,961.6 L957.3,935.2 L960.7,968.4 L963.2,958.2 L966.7,983.4 L969.2,933.5 L972.3,882.3 L975.2,851.6 L978.6,849.9 L981.7,826.9 L984.6,901.9 L988.0,894.2 L990.5,915.5 L993.6,882.3 L996.5,913.0 L999.0,914.7 L1002.5,915.5 L1005.9,942.0 L1008.4,967.5 L1011.8,976.1 L1014.4,1018.7 L1017.3,1025.5 L1020.4,1001.6 L1023.4,935.2 L1026.3,955.6 L1029.4,901.9 L1032.3,916.4 L1035.4,968.4 L1038.3,915.5 L1041.2,914.7 L1044.2,942.0 L1046.8,953.9 L1050.2,930.9 L1051.9,984.6 L1053.3,1040.9 L1056.2,1013.6 L1059.6,1044.3 L1062.1,967.5 L1064.7,865.2 L1067.8,848.2 L1071.5,836.3 L1074.9,856.7 L1077.5,899.4 L1080.0,993.1 L1083.5,994.8 L1086.5,1060.5 L1089.4,1001.6 L1092.0,899.4 L1095.4,882.3 L1098.5,948.8 L1101.4,941.1 L1103.9,950.5 L1107.3,980.3 L1110.7,977.8 L1113.3,985.5 L1115.8,950.5 L1119.3,895.9 L1122.3,933.5 L1124.4,1040.9 L1128.3,1057.9 L1129.8,950.5 L1131.5,848.2 L1134.6,882.3 L1137.5,911.3 L1140.6,895.9 L1143.1,834.6 L1146.2,848.2 L1149.1,848.2 L1152.2,901.1 L1155.1,899.4 L1158.5,895.9 L1161.4,829.5 L1164.4,952.2 L1167.8,938.6 L1170.4,882.3 L1173.0,839.7 L1176.4,834.6 L1178.9,838.8 L1182.0,827.7 L1184.9,826.0 L1188.3,835.4 L1190.9,820.9 L1194.3,826.0 L1197.3,839.7 L1200.2,874.6 L1202.8,860.1 L1206.2,853.3 L1209.1,844.8 L1212.2,821.8 L1214.7,865.2 L1218.2,849.9 L1221.2,822.6 L1224.1,861.8 L1227.0,868.7 L1230.1,880.6 L1233.5,865.2 L1236.4,848.2 L1239.5,813.2 L1242.9,813.2 L1245.4,815.8 L1248.3,824.3 L1251.4,853.3 L1254.0,831.1 L1256.5,797.0 L1259.9,824.3 L1262.5,797.0 L1265.9,784.3 L1269.0,792.8 L1271.9,829.5 L1274.4,822.6 L1277.8,809.0 L1280.4,882.3 L1282.1,933.5 L1284.7,961.6 L1287.2,899.4 L1290.6,882.3 L1293.2,865.2 L1296.6,853.3 L1299.1,820.1 L1301.7,843.1 L1305.1,814.1 L1307.7,798.8 L1310.6,796.2 L1313.9,799.7 L1316.4,790.3 L1319.8,832.1 L1322.4,789.5 L1325.8,838.9 L1329.2,755.4 L1332.3,827.0 L1335.2,775.8 L1338.6,825.2 L1341.2,828.7 L1344.2,846.6 L1347.1,791.1 L1350.0,815.9 L1353.1,787.7 L1355.6,794.6 L1359.0,754.5 L1361.6,774.1 L1365.0,792.9 L1368.1,801.4 L1371.0,809.0 L1374.4,798.0 L1377.0,786.9 L1380.4,799.7 L1383.4,811.6 L1386.3,818.4 L1388.9,859.4 L1391.5,898.6 L1394.9,915.6 L1397.8,926.7 L1400.8,913.9 L1403.9,916.5 L1406.8,890.0 L1409.9,888.3 L1412.8,876.4 L1415.8,842.3 L1418.7,821.0 L1421.8,840.6 L1425.2,759.6 L1427.8,854.2 L1430.7,840.6 L1434.1,855.9 L1437.0,840.6 L1440.0,876.4 L1443.5,893.5 L1446.0,939.5 L1448.9,946.3 L1452.0,927.5 L1455.0,913.9 L1458.0,917.3 L1461.0,910.5 L1463.9,903.7 L1467.0,947.2 L1469.0,828.7 L1473.0,820.1 L1475.8,910.5 L1478.4,896.0 L1481.8,895.2 L1484.9,854.2 L1487.8,874.7 L1490.8,861.1 L1493.8,864.5 L1496.8,867.0 L1500.1,847.4 L1502.8,879.0 L1505.7,861.9 L1508.8,874.7 L1511.7,862.8 L1514.7,893.5 L1517.6,919.0 L1521.0,948.9 L1523.9,913.9 L1527.0,905.4 L1529.9,833.8 L1533.0,849.1 L1535.9,861.1 L1538.9,863.6 L1541.8,847.4 L1544.9,869.6 L1547.8,838.9 L1550.9,832.9 L1553.9,789.5 L1556.8,798.8 L1559.4,852.5 L1562.8,866.2 L1565.7,792.9 L1568.8,859.4 L1571.7,844.0 L1574.7,873.0 L1577.8,844.0 L1580.7,888.3 L1583.8,884.9 L1586.7,896.9 L1589.7,931.8 L1592.6,932.7 L1595.7,910.5 L1598.6,896.9 L1601.7,876.4 L1604.6,847.4 L1607.5,856.8 L1610.5,835.5 L1613.4,815.0 L1616.5,815.0 L1619.4,842.3 L1622.5,866.2 L1625.5,844.9 L1628.5,849.1 L1631.5,861.1 L1634.4,910.5 L1637.8,945.5 L1640.9,927.5 L1643.8,842.3 L1646.9,789.5 L1649.8,842.3 L1651.1,936.4 L1652.3,1042.1 L1655.3,1023.4 L1658.4,1030.2 L1661.3,994.4 L1664.4,992.7 L1667.3,970.5 L1670.3,934.7 L1673.6,928.7 L1676.2,970.5 L1679.2,1013.1 L1682.3,1009.7 L1685.2,1002.9 L1688.6,1025.1 L1691.2,970.5 L1694.6,919.4 L1697.6,877.6 L1700.5,910.8 L1703.4,876.7 L1706.5,862.2 L1709.4,892.1 L1712.5,846.0 L1715.4,864.8 L1718.4,859.7 L1721.5,850.3 L1724.4,880.1 L1727.5,878.4 L1730.4,873.3 L1733.4,887.8 L1736.3,842.6 L1739.4,838.4 L1742.3,863.1 L1745.4,876.7 L1748.3,873.3 L1751.2,864.8 L1754.2,863.9 L1757.3,867.4 L1760.2,869.9 L1763.3,873.3 L1766.2,851.1 L1769.2,858.0 L1772.1,833.2 L1775.2,842.6 L1778.1,826.4 L1781.5,823.0 L1784.6,851.1 L1787.5,897.2 L1790.5,915.9 L1793.5,924.5 L1796.5,910.8 L1799.4,883.5 L1802.8,903.1 L1805.4,883.5 L1808.8,887.0 L1812.2,880.1 L1815.3,889.5 L1818.2,892.1 L1821.2,912.5 L1824.1,919.4 L1827.2,937.2 L1830.1,905.7 L1833.5,887.0 L1836.4,881.0 L1839.5,892.1 L1842.6,913.4 L1845.5,902.3 L1848.5,898.9 L1851.4,892.9 L1854.5,875.0 L1857.4,872.5 L1860.5,885.2 L1863.4,914.2 L1866.4,919.4 L1869.3,897.2 L1872.2,874.2 L1875.3,881.8 L1878.4,859.7 L1881.3,869.9 L1884.2,893.8 L1887.2,914.2 L1890.3,915.9 L1893.2,944.9 L1895.8,973.9 L1899.2,950.0 L1902.1,960.3 L1905.1,955.2 L1908.0,958.6 L1911.1,958.6 L1914.2,979.0 L1917.1,1004.6 L1920.1,1021.6 L1923.4,1052.3 L1926.1,1030.2 L1929.0,1011.4 L1931.9,1043.8 L1935.0,1023.4 L1938.0,1025.1 L1940.9,1025.1 L1943.5,970.5 L1946.9,895.5 L1950.3,893.8 L1953.4,900.6 L1956.3,906.6 L1958.8,927.9 L1962.2,948.3 L1965.3,956.9 L1968.2,973.9 L1971.1,1023.4 L1973.8,1004.6 L1977.1,1030.2 L1980.2,1004.6 L1982.7,973.9 L1986.1,973.1 L1988.7,996.1 L1991.2,1038.7 L1994.7,1098.4 L1998.1,1125.7 L2001.5,1098.4 L2004.9,1081.3 L2008.3,1076.2 L2010.8,1047.2 L2014.2,1030.2 L2015.4,967.2 L2018.7,929.3 L2022.2,981.8 L2025.2,943.9 L2028.1,963.3 L2031.4,988.6 L2034.3,973.1 L2037.2,969.2 L2040.1,945.8 L2043.0,948.8 L2046.0,949.7 L2048.9,947.8 L2051.8,923.5 L2054.7,937.1 L2057.6,934.2 L2060.5,967.2 L2063.5,1006.1 L2066.4,1043.1 L2069.3,1019.7 L2072.4,1059.6 L2075.3,1025.6 L2078.6,1025.6 L2082.1,973.1 L2085.0,994.5 L2088.0,1029.5 L2091.3,1097.5 L2093.8,1074.2 L2096.5,1122.8 L2099.6,1148.1 L2102.5,1146.1 L2105.5,1132.5 L2108.8,1155.8 L2111.7,1140.3 L2114.6,1142.2 L2117.5,1136.4 L2120.4,1130.6 L2123.3,1126.7 L2126.7,1098.5 L2129.6,1128.6 L2132.5,1091.7 L2135.4,1122.8 L2137.9,1064.5 L2141.8,977.0 L2144.7,926.4 L2147.7,944.9 L2151.0,887.5 L2153.5,1012.0 L2156.8,1017.8 L2159.7,1013.9 L2162.8,1001.3 L2165.7,1032.4 L2168.7,1021.7 L2171.6,1056.7 L2174.9,1030.4 L2177.8,1048.9 L2180.7,1036.3 L2183.6,1089.7 L2186.6,1052.8 L2189.5,1077.1 L2192.4,1050.8 L2195.7,1080.0 L2198.6,1041.1 L2201.5,1070.3 L2204.4,1047.0 L2207.4,1062.5 L2210.9,1047.9 L2213.8,1076.1 L2216.7,1074.2 L2219.6,1085.8 L2222.5,1095.6 L2225.4,1073.2 L2228.8,1114.0 L2231.7,1103.3 L2234.6,1084.9 L2237.5,1083.9 L2240.4,1082.9 L2243.3,1084.9 L2246.4,1080.0 L2249.8,1093.6 L2252.7,1107.2 L2255.6,1102.4 L2258.5,1100.4 L2261.8,1083.9 L2265.3,1110.2" fill="none" stroke="#ff2a1a" stroke-width="4.5" stroke-linejoin="round" stroke-linecap="round"/>
<path d="M222.85,1206.05v-15.20 M312.79,1206.05v-8.10 M402.74,1206.05v-15.20 M492.69,1206.05v-8.10 M582.63,1206.05v-15.20 M672.58,1206.05v-8.10 M762.53,1206.05v-15.20 M852.47,1206.05v-8.10 M942.42,1206.05v-15.20 M1032.37,1206.05v-8.10 M1122.31,1206.05v-15.20 M1212.26,1206.05v-8.10 M1302.21,1206.05v-15.20 M1392.15,1206.05v-8.10 M1482.10,1206.05v-15.20 M1572.05,1206.05v-8.10 M1661.99,1206.05v-15.20 M1751.94,1206.05v-8.10 M1841.88,1206.05v-15.20 M1931.83,1206.05v-8.10 M2021.78,1206.05v-15.20 M2111.72,1206.05v-8.10 M2201.67,1206.05v-15.20 M2291.62,1206.05v-8.10 M132.90,1147.81h7.20 M132.90,1089.57h15.10 M132.90,1031.33h7.20 M132.90,973.09h15.10 M132.90,914.86h7.20 M132.90,856.62h15.10 M132.90,798.38h7.20 M132.90,740.14h15.10" fill="none" stroke="#000" stroke-width="4.7"/>
<path d="M132.9,681.9V1206.05M2321.6,681.9V1206.05" fill="none" stroke="#000" stroke-width="4.65" stroke-linecap="round"/>
<path d="M132.9,681.9H2321.6" fill="none" stroke="#000" stroke-width="4.9" stroke-linecap="round"/>
<path d="M132.9,1206.05H2321.6" fill="none" stroke="#000" stroke-width="5.3" stroke-linecap="round"/>
<text x="222.5" y="1251.0" text-anchor="middle" font-size="41.5">0</text>
<text x="402.4" y="1251.0" text-anchor="middle" font-size="41.5" textLength="40.8" lengthAdjust="spacingAndGlyphs">30</text>
<text x="582.3" y="1251.0" text-anchor="middle" font-size="41.5" textLength="40.8" lengthAdjust="spacingAndGlyphs">60</text>
<text x="762.2" y="1251.0" text-anchor="middle" font-size="41.5" textLength="40.8" lengthAdjust="spacingAndGlyphs">90</text>
<text x="942.1" y="1251.0" text-anchor="middle" font-size="41.5" textLength="61.2" lengthAdjust="spacingAndGlyphs">120</text>
<text x="1122.0" y="1251.0" text-anchor="middle" font-size="41.5" textLength="61.2" lengthAdjust="spacingAndGlyphs">150</text>
<text x="1301.9" y="1251.0" text-anchor="middle" font-size="41.5" textLength="61.2" lengthAdjust="spacingAndGlyphs">180</text>
<text x="1481.8" y="1251.0" text-anchor="middle" font-size="41.5" textLength="61.2" lengthAdjust="spacingAndGlyphs">210</text>
<text x="1661.7" y="1251.0" text-anchor="middle" font-size="41.5" textLength="61.2" lengthAdjust="spacingAndGlyphs">240</text>
<text x="1841.6" y="1251.0" text-anchor="middle" font-size="41.5" textLength="61.2" lengthAdjust="spacingAndGlyphs">270</text>
<text x="2021.5" y="1251.0" text-anchor="middle" font-size="41.5" textLength="61.2" lengthAdjust="spacingAndGlyphs">300</text>
<text x="2201.4" y="1251.0" text-anchor="middle" font-size="41.5" textLength="61.2" lengthAdjust="spacingAndGlyphs">330</text>
<text x="116.8" y="1215.6" text-anchor="end" font-size="41.5">0</text>
<text x="116.8" y="1099.2" text-anchor="end" font-size="41.5" textLength="40" lengthAdjust="spacingAndGlyphs">20</text>
<text x="116.8" y="982.7" text-anchor="end" font-size="41.5" textLength="40" lengthAdjust="spacingAndGlyphs">40</text>
<text x="116.8" y="866.2" text-anchor="end" font-size="41.5" textLength="40" lengthAdjust="spacingAndGlyphs">60</text>
<text x="116.8" y="749.7" text-anchor="end" font-size="41.5" textLength="40" lengthAdjust="spacingAndGlyphs">80</text>
<text x="1222.3" y="1310.3" text-anchor="middle" font-size="48" font-weight="bold" textLength="107" lengthAdjust="spacingAndGlyphs">DOY</text>
<text transform="translate(55.2,943.4) rotate(-90)" text-anchor="middle" font-size="48" font-weight="bold" textLength="208.5" lengthAdjust="spacingAndGlyphs">PWV/mm</text>
<text font-size="48" font-weight="bold"><tspan x="199.2" y="763.7">(</tspan><tspan x="216.4" y="769.4" font-size="55.5">b</tspan><tspan x="249.1" y="763.7">)</tspan></text>
<path d="M2036.1,737.2H2145.5" stroke="#1670cd" stroke-width="4.3" stroke-linecap="round"/>
<path d="M2036.1,797.1H2145.5" stroke="#ff2a1a" stroke-width="4.3" stroke-linecap="round"/>
<text x="2155.0" y="753.5" font-size="41.5" textLength="117.8" lengthAdjust="spacingAndGlyphs">RSHH</text>
<text x="2155.0" y="813.4" font-size="41.5" textLength="116.8" lengthAdjust="spacingAndGlyphs">HHZF</text>
</g>
</svg>
</body>
</html>
